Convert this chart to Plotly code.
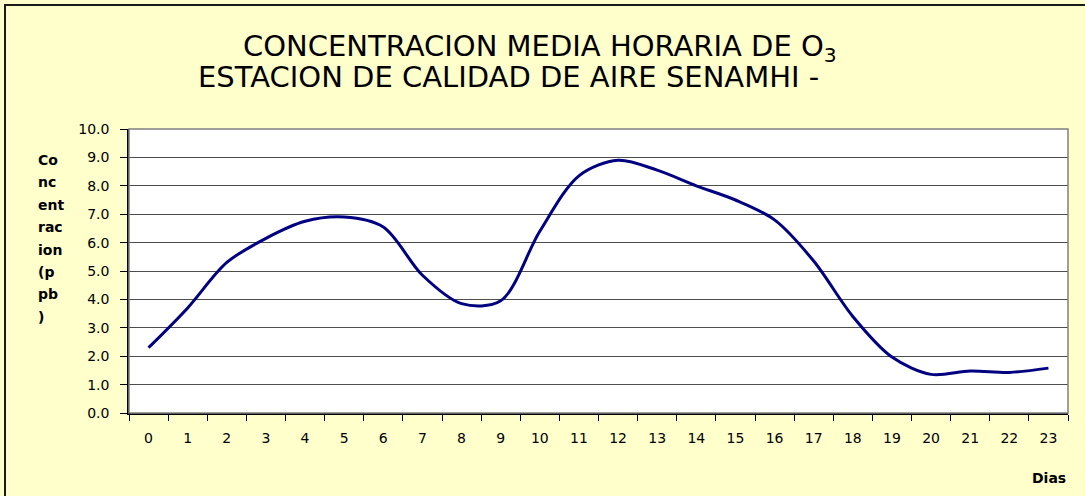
import plotly.graph_objects as go

# Hourly mean ozone concentration (ppb), hours 0-23
horas = [str(h) for h in range(24)]
ozono_ppb = [2.3, 3.7, 5.3, 6.15, 6.75, 6.9, 6.55, 4.85, 3.85, 3.95, 6.4, 8.35,
             8.9, 8.55, 8.0, 7.5, 6.8, 5.35, 3.4, 1.97, 1.36, 1.48, 1.43, 1.58]

titulo_1 = "CONCENTRACION MEDIA HORARIA DE O<sub>3</sub>"
titulo_2 = "ESTACION DE CALIDAD DE AIRE SENAMHI -"
eje_y_partes = ["Co", "nc", "ent", "rac", "ion", "(p", "pb", ")"]
eje_x_titulo = "Dias"
y_ticks = [i for i in range(11)]
y_labels = [f"{v:.1f}" for v in y_ticks]

W, H = 1085, 496
L, R, T, B = 129, 17, 129, 83
plot_h = H - T - B
plot_w = W - L - R

FONT = "DejaVu Sans"


def px_to_paper_y(py):
    return (H - B - py) / plot_h


def px_to_paper_x(px):
    return (px - L) / plot_w


fig = go.Figure()
fig.add_trace(go.Scatter(
    x=horas, y=ozono_ppb, mode="lines",
    line=dict(color="#000080", width=3, shape="spline", smoothing=0.9),
    hoverinfo="x+y", showlegend=False,
))

annotations = [
    dict(text=titulo_1, x=px_to_paper_x(540), y=px_to_paper_y(48),
         xref="paper", yref="paper", showarrow=False, xanchor="center", yanchor="middle",
         font=dict(family=FONT, size=29, color="black")),
    dict(text=titulo_2, x=px_to_paper_x(508), y=px_to_paper_y(77),
         xref="paper", yref="paper", showarrow=False, xanchor="center", yanchor="middle",
         font=dict(family=FONT, size=29, color="black")),
    dict(text=f"<b>{eje_x_titulo}</b>", x=1.0, y=px_to_paper_y(478),
         xref="paper", yref="paper", showarrow=False, xanchor="right", yanchor="middle",
         font=dict(family=FONT, size=14, color="black")),
]
for i, parte in enumerate(eje_y_partes):
    annotations.append(dict(
        text=f"<b>{parte}</b>", x=px_to_paper_x(36), y=px_to_paper_y(160 + 22.4 * i),
        xref="paper", yref="paper", showarrow=False, xanchor="left", yanchor="middle",
        font=dict(family=FONT, size=14, color="black"),
    ))

shapes = [
    # outer chart frame
    dict(type="rect", xref="paper", yref="paper",
         x0=px_to_paper_x(5), x1=px_to_paper_x(W + 20),
         y0=px_to_paper_y(H + 20), y1=px_to_paper_y(5),
         line=dict(color="#1a1a1a", width=2), layer="below"),
    # plot area border
    dict(type="rect", xref="paper", yref="paper", x0=0, x1=1, y0=0, y1=1,
         line=dict(color="#808080", width=1.5), layer="above"),
]

fig.update_layout(
    width=W, height=H,
    margin=dict(l=L, r=R, t=T, b=B, pad=0),
    paper_bgcolor="#FFFFCC",
    plot_bgcolor="white",
    font=dict(family=FONT, size=14, color="black"),
    annotations=annotations,
    shapes=shapes,
    showlegend=False,
)

fig.update_xaxes(
    type="category", tickson="boundaries", ticks="outside", ticklen=6, tickwidth=1,
    tickcolor="black", showline=True, linecolor="black", linewidth=1.5,
    showgrid=False, tickfont=dict(family=FONT, size=14), ticklabelstandoff=11,
    range=[-0.5, 23.5],
)
fig.update_yaxes(
    range=[0, 10], tickvals=y_ticks, ticktext=y_labels, ticks="outside", ticklen=7,
    tickwidth=1, tickcolor="black", showline=True, linecolor="black", linewidth=1.5,
    showgrid=True, gridcolor="#4d4d4d", gridwidth=1, zeroline=False,
    tickfont=dict(family=FONT, size=14), ticklabelstandoff=8,
)

fig.write_html("out.html")
